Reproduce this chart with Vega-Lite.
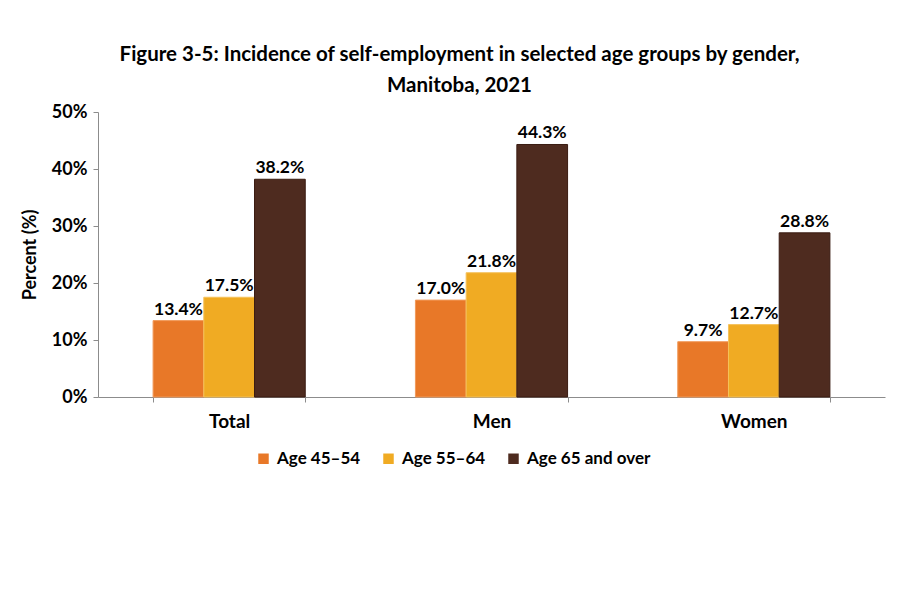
{
  "$schema": "https://vega.github.io/schema/vega-lite/v6.json",
  "autosize": {"type": "none"},
  "padding": {"left": 98, "top": 112, "right": 15, "bottom": 203},
  "width": 787,
  "height": 285,
  "background": "white",
  "title": {
    "text": ["Figure 3-5: Incidence of self-employment in selected age groups by gender,", "Manitoba, 2021"],
    "anchor": "middle",
    "frame": "group",
    "dx": -32,
    "offset": 7,
    "font": "Lato",
    "fontSize": 20.5,
    "fontWeight": "bold",
    "lineHeight": 31,
    "color": "black"
  },
  "data": {
    "values": [
      {"group": "Total", "age": "Age 45–54", "pct": 0.134},
      {"group": "Total", "age": "Age 55–64", "pct": 0.175},
      {"group": "Total", "age": "Age 65 and over", "pct": 0.382},
      {"group": "Men", "age": "Age 45–54", "pct": 0.170},
      {"group": "Men", "age": "Age 55–64", "pct": 0.218},
      {"group": "Men", "age": "Age 65 and over", "pct": 0.443},
      {"group": "Women", "age": "Age 45–54", "pct": 0.097},
      {"group": "Women", "age": "Age 55–64", "pct": 0.127},
      {"group": "Women", "age": "Age 65 and over", "pct": 0.288}
    ]
  },
  "encoding": {
    "x": {
      "field": "group",
      "type": "nominal",
      "sort": ["Total", "Men", "Women"],
      "title": null,
      "scale": {"paddingInner": 0.42, "paddingOuter": 0.21},
      "axis": {
        "labelAngle": 0,
        "labelFont": "Lato",
        "labelFontSize": 19,
        "labelFontWeight": "bold",
        "labelColor": "black",
        "labelPadding": 10,
        "tickBand": "extent",
        "tickSize": 5,
        "tickColor": "#8c8c8c",
        "domainColor": "#8c8c8c"
      }
    },
    "xOffset": {"field": "age", "type": "nominal", "sort": ["Age 45–54", "Age 55–64", "Age 65 and over"]},
    "y": {
      "field": "pct",
      "type": "quantitative",
      "title": "Percent (%)",
      "scale": {"domain": [0, 0.5]},
      "axis": {
        "format": "%",
        "values": [0, 0.1, 0.2, 0.3, 0.4, 0.5],
        "grid": false,
        "labelFont": "Lato",
        "labelFontSize": 18,
        "labelFontWeight": "bold",
        "labelColor": "black",
        "labelPadding": 6,
        "tickSize": 5,
        "tickColor": "#8c8c8c",
        "domainColor": "#8c8c8c",
        "titleFont": "Lato",
        "titleFontSize": 18,
        "titleFontWeight": "bold",
        "titleColor": "black",
        "titlePadding": 12
      }
    }
  },
  "layer": [
    {
      "mark": {"type": "bar", "strokeWidth": 1},
      "encoding": {
        "color": {
          "field": "age",
          "type": "nominal",
          "scale": {
            "domain": ["Age 45–54", "Age 55–64", "Age 65 and over"],
            "range": ["#E87828", "#F0AB23", "#4E2B1F"]
          },
          "legend": {
            "title": null,
            "orient": "none",
            "legendX": 157,
            "legendY": 338,
            "direction": "horizontal",
            "symbolType": "square",
            "symbolSize": 110,
            "symbolStrokeWidth": 0,
            "labelFont": "Lato",
            "labelFontSize": 17,
            "labelFontWeight": "bold",
            "labelColor": "black",
            "labelOffset": 5,
            "columnPadding": 19
          }
        },
        "stroke": {
          "field": "age",
          "type": "nominal",
          "scale": {
            "domain": ["Age 45–54", "Age 55–64", "Age 65 and over"],
            "range": ["#F19A5A", "#F5C15A", "#3A1C12"]
          },
          "legend": null
        }
      }
    },
    {
      "mark": {
        "type": "text",
        "baseline": "bottom",
        "dy": -2,
        "font": "Lato",
        "fontSize": 17.5,
        "fontWeight": "bold",
        "color": "black"
      },
      "encoding": {
        "text": {"field": "pct", "type": "quantitative", "format": ".1%"}
      }
    }
  ],
  "config": {
    "view": {"stroke": null}
  }
}
